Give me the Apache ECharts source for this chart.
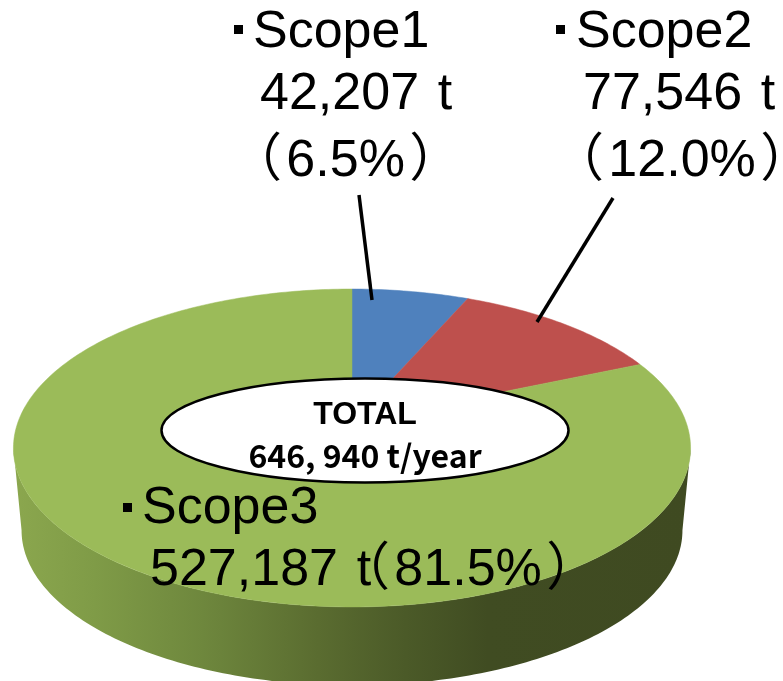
<!DOCTYPE html>
<html><head><meta charset="utf-8">
<style>html,body{margin:0;padding:0;background:#fff}#c{width:783px;height:681px}</style>
<script src="https://cdn.jsdelivr.net/npm/echarts@6/dist/echarts.min.js"></script>
</head><body><div id="c"></div>
<script>
const categories = ['Scope1', 'Scope2', 'Scope3'];
const values = [42207, 77546, 527187];
const percents = ['6.5%', '12.0%', '81.5%'];
const colors = ['#4F81BD', '#BE504D', '#9BBB59'];
const wallDark = [['#8BA74E',0],['#7F9B47',0.12],['#6E873D',0.28],['#5A6C30',0.45],['#4B5A28',0.58],['#404C22',0.7],['#3F4A21',1]];

const total = values.reduce((a, b) => a + b, 0);
const P = 0.1635, CX = 352;
const TOP = {y0: 422, A: 154.7, B: 334};
const BOT = {y0: 505, A: 151, B: 326};
const extreme = Math.acos(-P) ;   // where the silhouette of the disc turns
function pt(f, a) {
  const u = Math.sin(a), v = Math.cos(a), d = 1 + P * v;
  return [CX + f.B * u / d, f.y0 - f.A * v / d];
}
function arc(f, a0, a1) {
  const n = Math.max(2, Math.ceil(Math.abs(a1 - a0) * 60)), out = [];
  for (let i = 0; i <= n; i++) out.push(pt(f, a0 + (a1 - a0) * i / n));
  return out;
}
function span(idx) {
  let s = 0;
  for (let i = 0; i < idx; i++) s += values[i];
  return [s / total * 2 * Math.PI, (s + values[idx]) / total * 2 * Math.PI];
}
const seriesData = categories.map((c, i) => ({name: c, value: values[i]}));

const topFace = {
  type: 'custom', coordinateSystem: 'none', z: 3, silent: true, animation: false,
  data: seriesData,
  renderItem(params) {
    const [a0, a1] = span(params.dataIndex);
    const pts = [[CX, TOP.y0]].concat(arc(TOP, a0, a1));
    return {type: 'polygon', shape: {points: pts}, style: {fill: colors[params.dataIndex], stroke: colors[params.dataIndex], lineWidth: 0.5}};
  }
};
const wall = {
  type: 'custom', coordinateSystem: 'none', z: 2, silent: true, animation: false,
  data: seriesData,
  renderItem(params) {
    const [s0, s1] = span(params.dataIndex);
    const a0 = Math.max(s0, extreme), a1 = Math.min(s1, 2 * Math.PI - extreme);
    if (a1 <= a0) return {type: 'group', children: []};
    const pts = arc(TOP, a0, a1).concat(arc(BOT, a1, a0));
    return {type: 'polygon', shape: {points: pts}, style: {
      fill: {type: 'linear', x: 14, y: 0, x2: 690, y2: 0, global: true,
        colorStops: wallDark.map(s => ({color: s[0], offset: s[1]}))}
    }};
  }
};

const SANS = '"Liberation Sans","Noto Sans CJK JP",sans-serif';
const big = (text, x, y) => ({type: 'text', z: 20, x, y: y - 43, style: {text, fill: '#000', font: '52px ' + SANS}});
const bullet = (x, y) => ({type: 'rect', z: 20, shape: {x, y, width: 9, height: 9}, style: {fill: '#000'}});
const fmt = v => v.toLocaleString('en-US');
const GAP = ' \u200a';
const wrapPct = p => '（\u200a' + p + '\u200a）';

const graphics = [
  {type: 'line', z: 10, shape: {x1: 359, y1: 195, x2: 372, y2: 300}, style: {stroke: '#000', lineWidth: 3.5}},
  {type: 'line', z: 10, shape: {x1: 613, y1: 198, x2: 537, y2: 322}, style: {stroke: '#000', lineWidth: 3.5}},
  {type: 'ellipse', z: 10, shape: {cx: 365, cy: 430.5, rx: 203.5, ry: 52}, style: {fill: '#fff', stroke: '#000', lineWidth: 2.5}},
  {type: 'text', z: 20, x: 365, y: 425 - 26, style: {text: 'TOTAL', fill: '#000', font: '700 32px "Liberation Sans",sans-serif', align: 'center', textAlign: 'center'}},
  {type: 'text', z: 20, x: 365, y: 467 - 27, style: {text: '646, 940 t/year', fill: '#000', font: '700 32px "Noto Sans CJK JP",sans-serif', align: 'center', textAlign: 'center'}},
  bullet(234, 25), big(categories[0], 253, 50), big(fmt(values[0]) + GAP + 't', 260, 112), big(wrapPct(percents[0]), 230, 179),
  bullet(556, 25), big(categories[1], 576, 50), big(fmt(values[1]) + GAP + 't', 583, 112), big(wrapPct(percents[1]), 552, 179),
  bullet(123, 503), big(categories[2], 142, 526), big(fmt(values[2]) + GAP + 't', 150, 588), big(wrapPct(percents[2]), 338, 588)
];

const chart = echarts.init(document.getElementById('c'), null, {renderer: 'canvas'});
chart.setOption({animation: false, backgroundColor: '#fff', series: [wall, topFace], graphic: {elements: graphics}});
</script></body></html>
